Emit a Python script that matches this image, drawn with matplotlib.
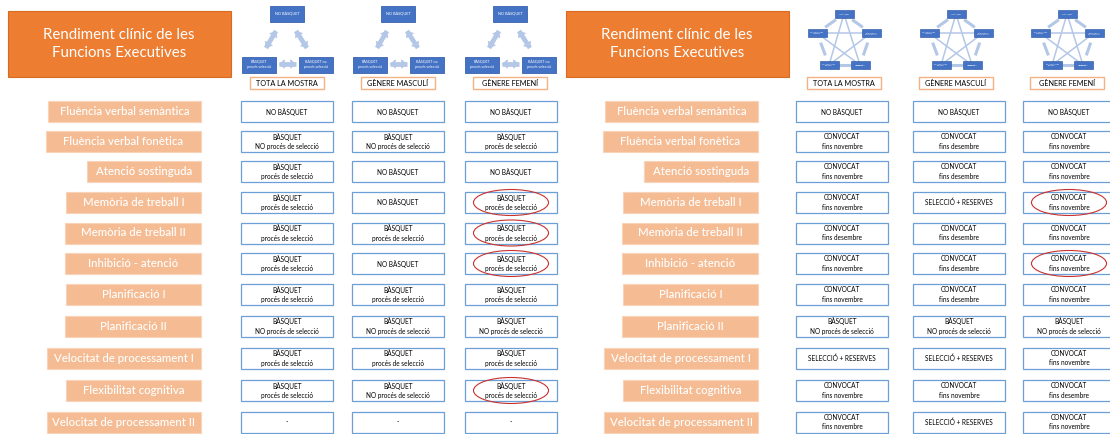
import matplotlib
matplotlib.use('Agg')
import matplotlib.pyplot as plt
from matplotlib.patches import Rectangle, Ellipse, FancyArrowPatch

plt.rcParams['font.family'] = ['Lato', 'DejaVu Sans']

title = 'Rendiment clínic de les\nFuncions Executives'
groups = ['TOTA LA MOSTRA', 'GÈNERE MASCULÍ', 'GÈNERE FEMENÍ']
rows = ['Fluència verbal semàntica', 'Fluència verbal fonètica', 'Atenció sostinguda',
        'Memòria de treball I', 'Memòria de treball II', 'Inhibició - atenció',
        'Planificació I', 'Planificació II', 'Velocitat de processament I',
        'Flexibilitat cognitiva', 'Velocitat de processament II']

NO = 'NO BÀSQUET'
BP = 'BÀSQUET\nprocés de selecció'
BN = 'BÀSQUET\nNO procés de selecció'
CN = 'CONVOCAT\nfins novembre'
CD = 'CONVOCAT\nfins desembre'
SR = 'SELECCIÓ + RESERVES'

# left panel: three groups (basquet / proces de seleccio)
left_total = [NO, BN, BP, BP, BP, BP, BP, BN, BP, BP, '-']
left_male = [NO, BN, NO, NO, BP, NO, BP, BN, BP, BN, '-']
left_female = [NO, BP, NO, BP, BP, BP, BP, BN, BP, BP, '-']
left_marked = [3, 4, 5, 9]

# right panel: convocatoria
right_total = [NO, CN, CN, CN, CD, CN, CN, BN, SR, CN, CN]
right_male = [NO, CD, CD, SR, CD, CD, CD, BN, SR, CN, SR]
right_female = [NO, CN, CN, CN, CN, CN, CN, BN, CN, CD, CN]
right_marked = [3, 5]

tri_nodes = ['NO BÀSQUET', 'BÀSQUET\nprocés selecció', 'BÀSQUET no\nprocés selecció']
pent_nodes = ['NO BÀSQUET', 'BÀSQUET no\nprocés selecció', 'SELECCIÓ +\nRESERVES',
              'CONVOCAT fins\ndesembre', 'CONVOCAT fins\nnovembre']

# layout (pixels)
row_y = [111.5, 141.5, 171.5, 202.5, 233, 263.5, 294.5, 326, 358, 390.5, 422]
label_w = [153, 155, 114, 135, 136, 136, 135, 136, 154, 135, 154]

ORANGE = '#ED7D31'
PEACH = '#F5BC94'
BLUE = '#4472C4'
LIGHT = '#B4C7E7'
CELL_EDGE = '#6C9FD6'

fig = plt.figure(figsize=(11.1, 4.34), dpi=100)
ax = fig.add_axes([0, 0, 1, 1])
ax.set_xlim(0, 1110)
ax.set_ylim(434, 0)
ax.axis('off')


def box(x0, y0, w, h, fc, ec, lw=1.0, z=2):
    ax.add_patch(Rectangle((x0, y0), w, h, facecolor=fc, edgecolor=ec, lw=lw, zorder=z))


def arrow(p, q):
    ax.plot([p[0], q[0]], [p[1], q[1]], color=LIGHT, lw=3.4, solid_capstyle='butt', zorder=1)
    ax.add_patch(FancyArrowPatch(p, q, arrowstyle='<|-|>,head_length=0.35,head_width=0.3',
                                 mutation_scale=10, color=LIGHT, lw=0.5, zorder=1,
                                 shrinkA=0, shrinkB=0))


def triangle(cx):
    box(cx - 17, 6, 34, 16, BLUE, '#3A63AD', 0.6)
    ax.text(cx, 14, tri_nodes[0], ha='center', va='center', fontsize=2.8, color='white', zorder=3)
    box(cx - 45, 57, 34, 16, BLUE, '#3A63AD', 0.6)
    ax.text(cx - 28, 65, tri_nodes[1], ha='center', va='center', fontsize=2.6, color='white',
            zorder=3, linespacing=1.1)
    box(cx + 12, 57, 34, 16, BLUE, '#3A63AD', 0.6)
    ax.text(cx + 29, 65, tri_nodes[2], ha='center', va='center', fontsize=2.6, color='white',
            zorder=3, linespacing=1.1)
    arrow((cx - 11, 31), (cx - 21, 48))
    arrow((cx + 9, 31), (cx + 20, 48))
    arrow((cx - 8, 64), (cx + 9, 64))


def pentagon(cx):
    pts = [(cx, 14), (cx + 27, 33), (cx + 16, 65), (cx - 15, 65), (cx - 27, 33)]
    # star lines
    for i in range(5):
        a, b = pts[i], pts[(i + 2) % 5]
        ax.plot([a[0], b[0]], [a[1], b[1]], color=LIGHT, lw=1.1, zorder=1)
    # short links between neighbours
    for i in range(5):
        a, b = pts[i], pts[(i + 1) % 5]
        ax.plot([a[0] + 0.3 * (b[0] - a[0]), a[0] + 0.7 * (b[0] - a[0])],
                [a[1] + 0.3 * (b[1] - a[1]), a[1] + 0.7 * (b[1] - a[1])],
                color=LIGHT, lw=2.2, zorder=1, solid_capstyle='butt')
    for (x, y), t in zip(pts, pent_nodes):
        box(x - 9.5, y - 4, 19, 8, BLUE, '#3A63AD', 0.5)
        ax.text(x, y, t, ha='center', va='center', fontsize=1.3, color='white', zorder=3,
                linespacing=1.0)


def panel(x_title, col_x, col_w, label_right, data, marked, diagram, head_x):
    box(x_title, 11, 223, 66, ORANGE, '#D86A22', 0.8)
    ax.text(x_title + 111, 44, title, ha='center', va='center', color='white',
            fontsize=10.8, linespacing=1.45, zorder=3)
    for hx, g, cx in zip(head_x, groups, col_x):
        diagram(hx + 37)
        box(hx, 77, 74, 12, 'white', '#F4B183', 1.0)
        ax.text(hx + 37, 83.3, g, ha='center', va='center', fontsize=5.2, zorder=3)
    for i, (name, y) in enumerate(zip(rows, row_y)):
        w = label_w[i]
        box(label_right - w, y - 10.5, w, 21, PEACH, '#F8D3B8', 0.8)
        ax.text(label_right - w / 2, y, name, ha='center', va='center', color='white',
                fontsize=8.2, fontweight='medium', zorder=3)
        for j, (x0, vals) in enumerate(zip(col_x, data)):
            box(x0, y - 10.5, col_w, 21, 'white', CELL_EDGE, 0.9)
            ax.text(x0 + col_w / 2, y, vals[i], ha='center', va='center', fontsize=4.7,
                    linespacing=1.45, zorder=3)
            if j == 2 and i in marked:
                ax.add_patch(Ellipse((x0 + col_w / 2, y), 75, 26, fill=False,
                                     edgecolor='#C8322E', lw=0.8, zorder=4))


panel(8, [241, 352, 465], 92, 201, [left_total, left_male, left_female],
      left_marked, triangle, [250, 361, 473])
panel(566, [796, 913, 1023], 92, 758, [right_total, right_male, right_female],
      right_marked, pentagon, [807, 919, 1030])

fig.savefig('out.png', dpi=100)
